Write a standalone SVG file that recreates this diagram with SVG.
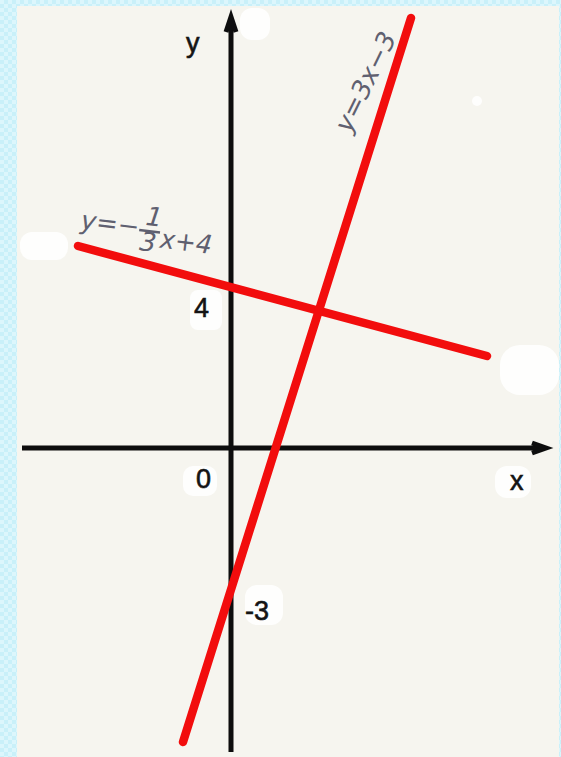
<svg xmlns="http://www.w3.org/2000/svg" width="561" height="757" viewBox="0 0 561 757">
<defs>
<pattern id="chk" width="8" height="8" patternUnits="userSpaceOnUse">
<rect width="8" height="8" fill="#c9f0f9"/>
<rect width="4" height="4" fill="#dcf6fc"/>
<rect x="4" y="4" width="4" height="4" fill="#dcf6fc"/>
</pattern>
<style>
.axis{stroke:#0d0d0d;stroke-width:5;fill:none}
.red{stroke:#f20d0d;stroke-width:8.5;stroke-linecap:round;fill:none}
.lbl{font-family:"Liberation Sans",Arial,sans-serif;font-size:27px;fill:#141414;stroke:#141414;stroke-width:0.6}
.hand{font-family:"DejaVu Sans",sans-serif;font-style:oblique;fill:#5f6070;font-size:26px}
.patch{fill:#fefefd}
</style>
</defs>
<rect width="561" height="757" fill="url(#chk)"/>
<rect x="17" y="6" width="542" height="751" fill="#f6f5ef"/>
<g id="patches">
<rect class="patch" x="240" y="8" width="30" height="32" rx="12"/>
<rect class="patch" x="190" y="290" width="32" height="40" rx="8"/>
<rect class="patch" x="183" y="466" width="34" height="30" rx="10"/>
<rect class="patch" x="495" y="466" width="36" height="32" rx="12"/>
<rect class="patch" x="500" y="345" width="59" height="50" rx="20"/>
<rect class="patch" x="20" y="232" width="48" height="28" rx="12"/>
<rect class="patch" x="245" y="585" width="38" height="40" rx="12"/>
<rect class="patch" x="472" y="96" width="10" height="10" rx="5"/>
</g>
<g id="connectors">
<line id="y-axis" class="axis" x1="231" y1="20" x2="231" y2="752"/>
<path class="axis" stroke-width="2" d="M226 32 L231 17 L236 32"/>
<line id="x-axis" class="axis" x1="22" y1="448" x2="543" y2="448"/>
<path class="axis" stroke-width="2" d="M532 443 L546 448 L532 453"/>
<line id="line1" class="red" x1="78" y1="246" x2="487" y2="356"/>
<line id="line2" class="red" x1="183" y1="742" x2="411" y2="18"/>
</g>
<g id="labels">
<text class="lbl" x="186" y="52">y</text>
<text class="lbl" x="194" y="317">4</text>
<text class="lbl" x="196" y="488">0</text>
<text class="lbl" x="510" y="490">x</text>
<text class="lbl" x="245" y="620">-3</text>
</g>
<g id="eq1" transform="rotate(7 82 228)">
<text class="hand" x="80" y="229">y=−</text>
<text class="hand" x="144" y="217" font-size="19">1</text>
<line x1="139" y1="223" x2="160" y2="223" stroke="#5f6070" stroke-width="2.5"/>
<text class="hand" x="141" y="243" font-size="19">3</text>
<text class="hand" x="161" y="238" textLength="52" lengthAdjust="spacingAndGlyphs">x+4</text>
</g>
<g id="eq2">
<text class="hand" x="0" y="0" font-size="31" transform="translate(350 134) rotate(-64)">y=3x−3</text>
</g>
</svg>
